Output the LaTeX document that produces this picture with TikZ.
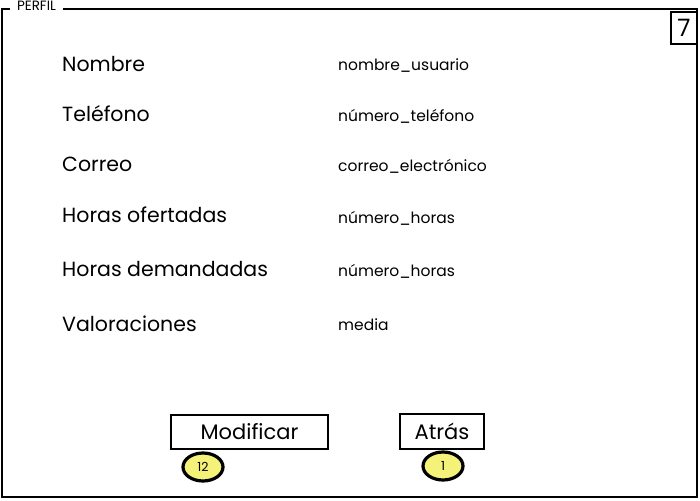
\documentclass[tikz,border=0pt]{standalone}
\usepackage{fontspec}
\setmainfont{Poppins}
\usetikzlibrary{shapes.geometric}
\definecolor{badgey}{HTML}{F5F27A}
\tikzset{
  lbl/.style={anchor=west, inner sep=0pt, font=\fontsize{20.5}{22}\selectfont},
  val/.style={anchor=west, inner sep=0pt, font=\fontsize{15.5}{17}\selectfont},
  btn/.style={draw=black, line width=1.8pt, fill=white, inner sep=0pt, font=\fontsize{21}{23}\selectfont},
  badge/.style={ellipse, draw=black, line width=3.2pt, fill=badgey, inner sep=0pt, minimum width=40pt, minimum height=28pt, font=\fontsize{12.5}{13}\selectfont},
}
\begin{document}
\begin{tikzpicture}[x=1pt,y=-1pt]
\useasboundingbox (0,0) rectangle (700,500);
% frame
\draw[line width=2.4pt] (63,9) -- (697,9) -- (697,497) -- (2,497) -- (2,9) -- (10,9);
\node[inner sep=0pt, font=\fontsize{13.5}{14}\selectfont] (title) at (36.5,6) {PERFIL};
\node[draw, line width=1.8pt, fill=white, minimum width=26pt, minimum height=32pt, inner sep=0pt, font=\fontsize{24}{26}\selectfont] (num) at (684,28) {7};
% labels
\node[lbl] (l1) at (62,64) {Nombre};
\node[lbl] (l2) at (62,114) {Teléfono};
\node[lbl] (l3) at (62,164) {Correo};
\node[lbl] (l4) at (62,215) {Horas ofertadas};
\node[lbl] (l5) at (62,269) {Horas demandadas};
\node[lbl] (l6) at (62,324) {Valoraciones};
\node[val] (v1) at (338,66) {nombre\_usuario};
\node[val] (v2) at (338,116) {número\_teléfono};
\node[val] (v3) at (338,166) {correo\_electrónico};
\node[val] (v4) at (338,218) {número\_horas};
\node[val] (v5) at (338,271) {número\_horas};
\node[val] (v6) at (338,325) {media};
% buttons
\node[btn, minimum width=157pt, minimum height=34pt] (mod) at (249.5,432) {Modificar};
\node[btn, minimum width=84pt, minimum height=35pt] (atr) at (442,431.5) {Atrás};
\node[badge] (b12) at (203,467) {12};
\node[badge] (b1) at (443,466) {1};
\end{tikzpicture}
\end{document}
